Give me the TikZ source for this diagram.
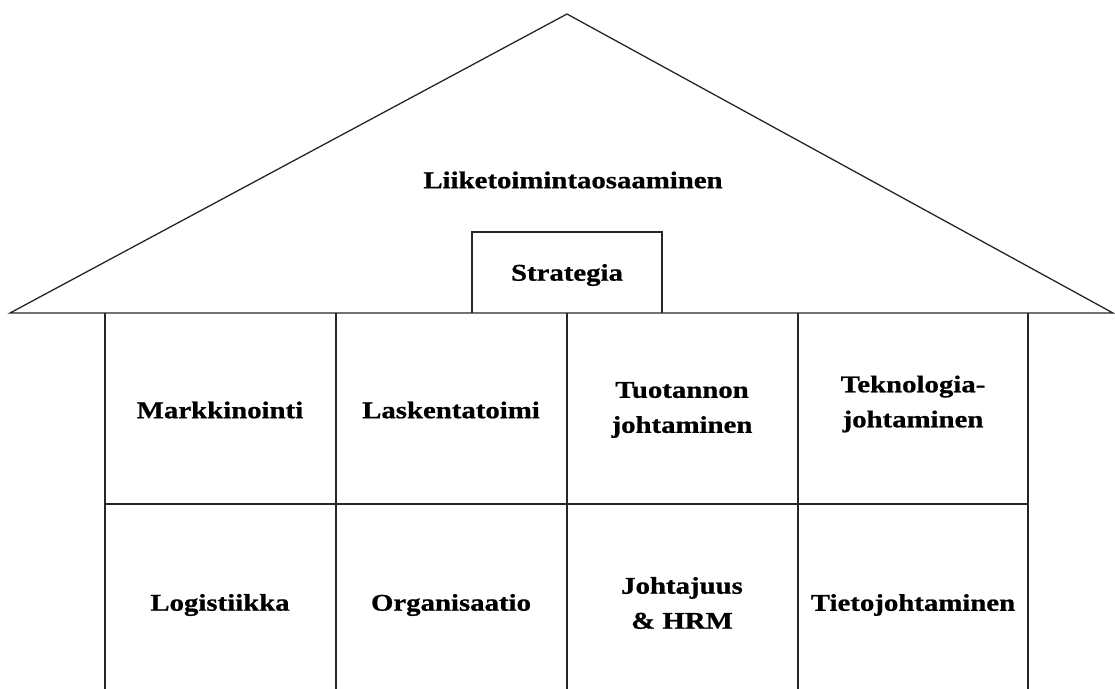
\documentclass[tikz,border=0pt]{standalone}
\usepackage{fontspec}
\setmainfont{Liberation Serif}[FakeStretch=1.2]
\begin{document}
\begin{tikzpicture}[x=1pt,y=-1pt,
  ln/.style={draw=black!85,line width=1.3pt},
  lbl/.style={font=\fontsize{24}{35}\selectfont\bfseries\addfontfeature{FakeBold=0.8},align=center,inner sep=0pt}]
\useasboundingbox (0,0) rectangle (1115,688);
% roof
\coordinate (L) at (10,313);
\coordinate (A) at (567,14);
\coordinate (R) at (1113,313);
\draw[ln,line join=miter] (L) -- (A) -- (R) -- cycle;
% strategia box
\draw[ln] (472,313) -- (472,232) -- (662,232) -- (662,313);
% walls and columns
\foreach \x in {105,336,567,798,1028}{
  \draw[ln] (\x,313) -- (\x,690);
}
\draw[ln] (105,504) -- (1028,504);
% labels
\node[lbl] (roof) at (573,180) {Liiketoimintaosaaminen};
\node[lbl] (strat) at (567,275) {Strategia};
\node[lbl] (m) at (220,410) {Markkinointi};
\node[lbl] (l) at (451,410) {Laskentatoimi};
\node[lbl] (t) at (682,410) {Tuotannon\\johtaminen};
\node[lbl] (tk) at (913,404) {Teknologia-\\johtaminen};
\node[lbl] (lo) at (220,605) {Logistiikka};
\node[lbl] (o) at (451,605) {Organisaatio};
\node[lbl] (j) at (682,603) {Johtajuus\\\& HRM};
\node[lbl] (ti) at (913,605) {Tietojohtaminen};
\end{tikzpicture}
\end{document}
